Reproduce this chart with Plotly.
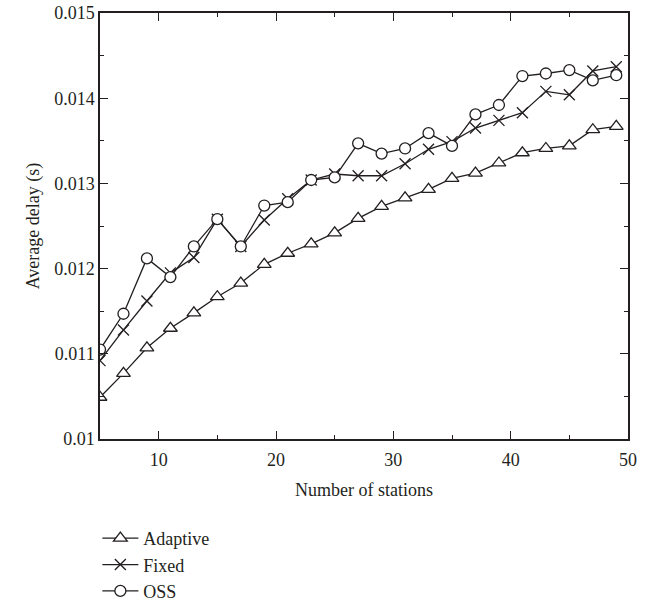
import plotly.graph_objects as go

stations = [5, 7, 9, 11, 13, 15, 17, 19, 21, 23, 25, 27, 29, 31, 33, 35, 37, 39, 41, 43, 45, 47, 49]
adaptive = [0.01049, 0.01077, 0.01107, 0.01130, 0.01148, 0.01167, 0.01183, 0.01205, 0.01218, 0.01229,
            0.01242, 0.01259, 0.01273, 0.01283, 0.01293, 0.01306, 0.01312, 0.01324, 0.01336, 0.01341,
            0.01344, 0.01363, 0.01367]
fixed = [0.01092, 0.01128, 0.01162, 0.01195, 0.01213, 0.01258, 0.01226, 0.01257, 0.01282, 0.01304,
         0.01311, 0.01309, 0.01309, 0.01323, 0.01340, 0.01349, 0.01365, 0.01374, 0.01383, 0.01408,
         0.01404, 0.01432, 0.01437]
oss = [0.01105, 0.01147, 0.01212, 0.01190, 0.01226, 0.01258, 0.01226, 0.01274, 0.01278, 0.01304,
       0.01307, 0.01347, 0.01335, 0.01341, 0.01359, 0.01344, 0.01381, 0.01392, 0.01426, 0.01429,
       0.01433, 0.01421, 0.01427]

y_ticks = [0.01, 0.011, 0.012, 0.013, 0.014, 0.015]
y_tick_labels = ["0.01", "0.011", "0.012", "0.013", "0.014", "0.015"]
x_ticks = [10, 20, 30, 40, 50]

FONT = "Liberation Serif"
INK = "#231f20"

series = [
    ("Adaptive", adaptive, "triangle-up", 12),
    ("Fixed", fixed, "x-thin", 11),
    ("OSS", oss, "circle", 11),
]

fig = go.Figure()
for name, vals, sym, size in series:
    fig.add_trace(go.Scatter(
        x=stations, y=vals, name=name, mode="lines+markers",
        line=dict(color=INK, width=1.3),
        marker=dict(symbol=sym, size=size, color="white",
                    line=dict(color=INK, width=1.3)),
    ))

axis_common = dict(
    showline=True, linecolor=INK, linewidth=1.5, mirror="ticks",
    ticks="inside", ticklen=8, tickwidth=1.3, tickcolor=INK,
    showgrid=False, zeroline=False,
    tickfont=dict(family=FONT, size=18, color=INK),
)

fig.update_xaxes(
    range=[5, 50], tickvals=x_ticks, ticklabelstandoff=4,
    minor=dict(ticks="inside", ticklen=4, tickwidth=1.3, tickcolor=INK, dtick=5, tick0=5, showgrid=False),
    title=dict(text="Number of stations", font=dict(family=FONT, size=18, color=INK), standoff=14),
    **axis_common,
)
fig.update_yaxes(
    range=[0.01, 0.015], tickvals=y_ticks, ticktext=y_tick_labels,
    minor=dict(ticks="inside", ticklen=4, tickwidth=1.3, tickcolor=INK, dtick=0.0005, tick0=0.01, showgrid=False),
    title=dict(text="Average delay (s)", font=dict(family=FONT, size=18, color=INK), standoff=10),
    **axis_common,
)

fig.update_layout(
    width=656, height=602,
    margin=dict(l=100, r=28, t=13, b=163, autoexpand=False),
    plot_bgcolor="white", paper_bgcolor="white",
    showlegend=True,
    legend=dict(
        x=-0.005, xanchor="left", y=-0.19, yanchor="top",
        font=dict(family=FONT, size=18, color=INK),
        itemwidth=36, bgcolor="rgba(0,0,0,0)",
    ),
)

fig.write_html("out.html")
